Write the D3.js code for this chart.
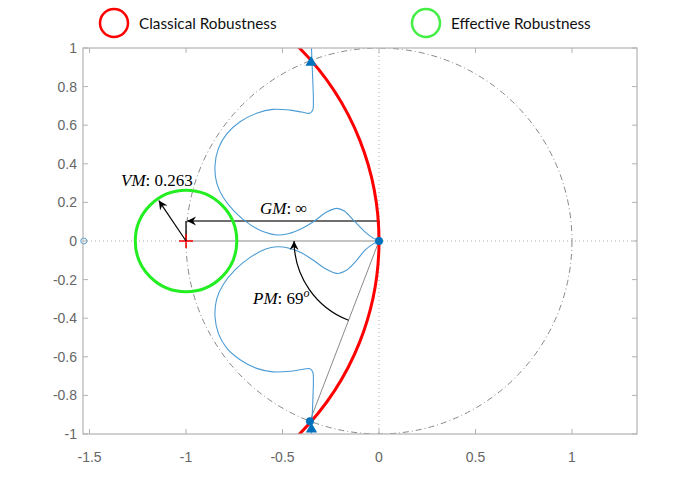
<!DOCTYPE html>
<html><head><meta charset="utf-8">
<script src="https://cdn.jsdelivr.net/npm/d3@7/dist/d3.min.js"></script>
<style>body{margin:0;background:#fff;} svg{display:block;}</style>
</head><body>
<svg id="chart" width="680" height="481"></svg>
<script>
// ---- data ----
const xTicks = [-1.5, -1, -0.5, 0, 0.5, 1];
const yTicks = [-1, -0.8, -0.6, -0.4, -0.2, 0, 0.2, 0.4, 0.6, 0.8, 1];
const nyqRe = [-0.352,-0.350,-0.346,-0.342,-0.340,-0.343,-0.358,-0.40,-0.46,-0.55,-0.634,-0.72,-0.789,-0.832,-0.850,-0.841,-0.807,-0.746,-0.668,-0.59,-0.53,-0.47,-0.40,-0.34,-0.271,-0.219,-0.18,-0.13,-0.07,-0.03,0,
  -0.03,-0.07,-0.116,-0.167,-0.219,-0.27,-0.34,-0.40,-0.47,-0.53,-0.59,-0.668,-0.746,-0.807,-0.841,-0.850,-0.832,-0.789,-0.72,-0.634,-0.55,-0.46,-0.40,-0.358,-0.343,-0.340,-0.342,-0.346,-0.350,-0.352];
const nyqIm = [1.08,1.00,0.90,0.80,0.72,0.680,0.662,0.668,0.678,0.682,0.662,0.618,0.555,0.48,0.39,0.30,0.225,0.150,0.085,0.045,0.031,0.038,0.065,0.100,0.150,0.169,0.155,0.105,0.045,0.015,0,
  -0.015,-0.045,-0.10,-0.150,-0.168,-0.148,-0.10,-0.062,-0.036,-0.030,-0.043,-0.085,-0.150,-0.225,-0.30,-0.39,-0.48,-0.555,-0.615,-0.660,-0.678,-0.675,-0.666,-0.662,-0.680,-0.72,-0.80,-0.90,-0.95,-1.08];
const triMarkers = [[-0.352, 0.925], [-0.350, -0.975]];
const dotMarkers = [[0, 0], [-0.358, -0.934]];
const startMarker = [-1.53, 0];
const criticalPoint = [-1, 0];
const classicalCenter = -1.42, classicalRadius = 1.42;
const vmValue = 0.263, vmAngleDeg = 124;
const gmLevel = 0.104;
const pmDeg = 69, pmArcRadius = 0.44;
const legendLabels = ["Classical Robustness", "Effective Robustness"];

// ---- layout ----
const L = 83, R = 637, T = 48, B = 434;
const x = d3.scaleLinear().domain([-1.534, 1.337]).range([L, R]);
const y = d3.scaleLinear().domain([-1, 1]).range([B, T]);
const k = x(1) - x(0);
const svg = d3.select("#chart");
const defs = svg.append("defs");
defs.append("clipPath").attr("id","clip").append("rect").attr("x",L).attr("y",T).attr("width",R-L).attr("height",B-T);
defs.append("marker").attr("id","ah").attr("viewBox","-10 -6 12 12").attr("refX",0).attr("refY",0)
  .attr("markerWidth",12).attr("markerHeight",12).attr("markerUnits","userSpaceOnUse").attr("orient","auto")
  .append("path").attr("d","M0,0 L-9,-4.5 L-6,0 L-9,4.5 Z").attr("fill","#000");

const g = svg.append("g").attr("clip-path","url(#clip)");
// dotted axes
g.append("line").attr("x1",L).attr("x2",R).attr("y1",y(0)).attr("y2",y(0)).attr("stroke","#aaa").attr("stroke-dasharray","1,3").attr("stroke-width",1);
g.append("line").attr("x1",x(0)).attr("x2",x(0)).attr("y1",T).attr("y2",B).attr("stroke","#aaa").attr("stroke-dasharray","1,3").attr("stroke-width",1);
// unit circle
g.append("circle").attr("cx",x(0)).attr("cy",y(0)).attr("r",k).attr("fill","none").attr("stroke","#888").attr("stroke-width",1).attr("stroke-dasharray","6,3,1,3");
// real axis segment
g.append("line").attr("x1",x(-1)).attr("x2",x(0)).attr("y1",y(0)).attr("y2",y(0)).attr("stroke","#c4c4c4").attr("stroke-width",2);
// GM
g.append("line").attr("x1",x(0)).attr("x2",x(-1)+1).attr("y1",y(gmLevel)).attr("y2",y(gmLevel)).attr("stroke","#6e6e6e").attr("stroke-width",2).attr("marker-end","url(#ah)");
g.append("line").attr("x1",x(-1)).attr("x2",x(-1)).attr("y1",y(gmLevel)).attr("y2",y(0)).attr("stroke","#222").attr("stroke-width",1.5);
g.append("line").attr("x1",x(0)).attr("x2",x(0)).attr("y1",y(gmLevel)).attr("y2",y(0)).attr("stroke","#222").attr("stroke-width",1.5);
// PM line
const pmRad = (-180 + pmDeg) * Math.PI/180;
g.append("line").attr("x1",x(0)).attr("y1",y(0)).attr("x2",x(Math.cos(pmRad))).attr("y2",y(Math.sin(pmRad))).attr("stroke","#8a8a8a").attr("stroke-width",1);
// Nyquist curve
const pts = nyqRe.map((r,i)=>[r, nyqIm[i]]);
g.append("path").attr("d", d3.line().x(d=>x(d[0])).y(d=>y(d[1])).curve(d3.curveCatmullRom.alpha(0.5))(pts))
  .attr("fill","none").attr("stroke","#4a9bd4").attr("stroke-width",1.1);
// classical circle
g.append("circle").attr("cx",x(classicalCenter)).attr("cy",y(0)).attr("r",classicalRadius*k).attr("fill","none").attr("stroke","#ff0000").attr("stroke-width",3);
// effective circle
g.append("circle").attr("cx",x(-1)).attr("cy",y(0)).attr("r",vmValue*k).attr("fill","none").attr("stroke","#22ee22").attr("stroke-width",3);
// markers
triMarkers.forEach(p=>{
  g.append("path").attr("d", d3.symbol().type(d3.symbolTriangle).size(55)()).attr("transform",`translate(${x(p[0])},${y(p[1])})`).attr("fill","#0072bd");
});
dotMarkers.forEach(p=>{
  g.append("circle").attr("cx",x(p[0])).attr("cy",y(p[1])).attr("r",4).attr("fill","#0072bd");
});
svg.append("circle").attr("cx",x(startMarker[0])).attr("cy",y(startMarker[1])).attr("r",3).attr("fill","#fff").attr("stroke","#4a9bd4").attr("stroke-width",1);
// critical point +
svg.append("path").attr("d",`M${x(-1)-7},${y(0)}h14M${x(-1)},${y(0)-7}v14`).attr("stroke","#ff0000").attr("stroke-width",1.5);
// VM arrow
const va = vmAngleDeg*Math.PI/180, vl = vmValue*0.96;
svg.append("line").attr("x1",x(-1)).attr("y1",y(0)).attr("x2",x(-1+vl*Math.cos(va))).attr("y2",y(vl*Math.sin(va))).attr("stroke","#000").attr("stroke-width",1.2).attr("marker-end","url(#ah)");
// PM arc
const pa = d3.path();
const a0 = -pmRad, a1 = Math.PI;
pa.moveTo(x(0)+pmArcRadius*k*Math.cos(a0), y(0)+pmArcRadius*k*Math.sin(a0));
pa.arc(x(0), y(0), pmArcRadius*k, a0, a1, false);
svg.append("path").attr("d",pa.toString()).attr("fill","none").attr("stroke","#000").attr("stroke-width",1.2).attr("marker-end","url(#ah)");

// annotation labels
const serif = "'Liberation Serif','DejaVu Serif',serif";
function label(px, py, parts){
  const t = svg.append("text").attr("x",px).attr("y",py).attr("font-family",serif).attr("font-size",17).attr("fill","#000");
  parts.forEach(p=>{
    const s = t.append("tspan").text(p.t);
    if(p.i) s.attr("font-style","italic");
    if(p.sup) s.attr("baseline-shift","super").attr("font-size",12);
  });
}
label(x(-1.337), y(0.285), [{t:"VM",i:1},{t:": 0.263"}]);
label(x(-0.617), y(0.140), [{t:"GM",i:1},{t:": ∞"}]);
label(x(-0.653), y(-0.326), [{t:"PM",i:1},{t:": 69"},{t:"o",i:1,sup:1}]);

// box & ticks
const axC = "#b3b3b3";
svg.append("rect").attr("x",L).attr("y",T).attr("width",R-L).attr("height",B-T).attr("fill","none").attr("stroke",axC).attr("stroke-width",1.2);
const sans = "'Liberation Sans',Arial,sans-serif";
xTicks.forEach(v=>{
  svg.append("line").attr("x1",x(v)).attr("x2",x(v)).attr("y1",B).attr("y2",B-5).attr("stroke",axC);
  svg.append("line").attr("x1",x(v)).attr("x2",x(v)).attr("y1",T).attr("y2",T+5).attr("stroke",axC);
  svg.append("text").attr("x",x(v)).attr("y",B+28).attr("text-anchor","middle").attr("font-family",sans).attr("font-size",14).attr("fill","#666").text(v);
});
yTicks.forEach(v=>{
  svg.append("line").attr("x1",L).attr("x2",L+5).attr("y1",y(v)).attr("y2",y(v)).attr("stroke",axC);
  svg.append("line").attr("x1",R).attr("x2",R-5).attr("y1",y(v)).attr("y2",y(v)).attr("stroke",axC);
  svg.append("text").attr("x",L-6).attr("y",y(v)+5).attr("text-anchor","end").attr("font-family",sans).attr("font-size",14).attr("fill","#666").text(v);
});

// legend
const legColors = ["#ff0000","#44ee44"];
const legX = [114, 426];
legendLabels.forEach((lab,i)=>{
  svg.append("circle").attr("cx",legX[i]).attr("cy",23).attr("r",14).attr("fill","none").attr("stroke",legColors[i]).attr("stroke-width",2.5);
  svg.append("text").attr("x",legX[i]+25).attr("y",28.5).attr("font-family","Lato,'Open Sans',sans-serif").attr("font-size",15.3).attr("fill","#111").text(lab);
});
</script>
</body></html>
